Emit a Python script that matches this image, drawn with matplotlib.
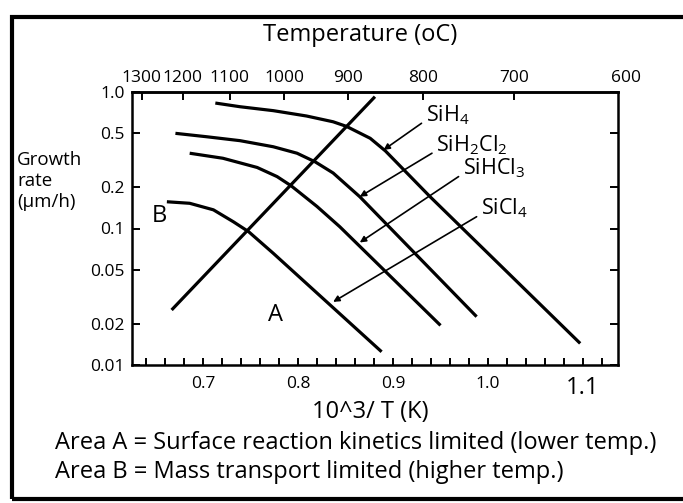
import numpy as np
import matplotlib
matplotlib.use('Agg')
import matplotlib.pyplot as plt
from matplotlib.patches import Rectangle
from matplotlib.ticker import FixedLocator, NullLocator

plt.rcParams['font.family'] = ['Open Sans', 'DejaVu Sans']
plt.rcParams['mathtext.default'] = 'regular'

# curvas: x = 10^3/T (1/K), y = velocidad de crecimiento (um/h)
sih4_x = [0.713, 0.739, 0.774, 0.809, 0.837, 0.851, 0.876, 0.892, 0.939, 1.097]
sih4_y = [0.83, 0.78, 0.73, 0.667, 0.605, 0.56, 0.458, 0.37, 0.171, 0.0144]

sih2cl2_x = [0.671, 0.704, 0.739, 0.774, 0.799, 0.818, 0.837, 0.865, 0.988]
sih2cl2_y = [0.498, 0.47, 0.44, 0.397, 0.356, 0.308, 0.255, 0.171, 0.0226]

sihcl3_x = [0.686, 0.721, 0.757, 0.778, 0.793, 0.820, 0.844, 0.950]
sihcl3_y = [0.356, 0.327, 0.28, 0.24, 0.205, 0.145, 0.103, 0.0195]

sicl4_x = [0.662, 0.686, 0.711, 0.732, 0.748, 0.774, 0.888]
sicl4_y = [0.157, 0.153, 0.137, 0.112, 0.0948, 0.0658, 0.0125]

# frontera entre zona A y zona B
frontera_x = [0.667, 0.881]
frontera_y = [0.0253, 0.924]

# etiquetas de los gases y sus flechas
gases = ['SiH$_4$', 'SiH$_2$Cl$_2$', 'SiHCl$_3$', 'SiCl$_4$']
flecha_ini_x = [0.930, 0.941, 0.969, 0.988]
flecha_ini_y = [0.59, 0.356, 0.24, 0.122]
flecha_fin_x = [0.890, 0.865, 0.865, 0.837]
flecha_fin_y = [0.376, 0.171, 0.079, 0.029]

x_ticks = [0.7, 0.8, 0.9, 1.0, 1.1]
x_labels = ['0.7', '0.8', '0.9', '1.0', '1.1']
y_ticks = [0.01, 0.02, 0.05, 0.1, 0.2, 0.5, 1.0]
y_labels = ['0.01', '0.02', '0.05', '0.1', '0.2', '0.5', '1.0']
temps = [1300, 1200, 1100, 1000, 900, 800, 700, 600]


def a_celsius(x):
    x = np.asarray(x, dtype=float)
    with np.errstate(divide='ignore'):
        return 1000.0 / x - 273.0


def a_inversa(t):
    t = np.asarray(t, dtype=float)
    with np.errstate(divide='ignore'):
        return 1000.0 / (t + 273.0)


fig = plt.figure(figsize=(6.83, 5.03), dpi=100)
ax = fig.add_axes([132/683, 1-365/503, (618-132)/683, (365-92)/503])

lw = 2.3
for xs, ys in [(sih4_x, sih4_y), (sih2cl2_x, sih2cl2_y),
               (sihcl3_x, sihcl3_y), (sicl4_x, sicl4_y)]:
    ax.plot(xs, ys, color='black', lw=lw, solid_capstyle='butt')
ax.plot(frontera_x, frontera_y, color='black', lw=lw, solid_capstyle='butt')

for i, g in enumerate(gases):
    ax.annotate('', xy=(flecha_fin_x[i], flecha_fin_y[i]),
                xytext=(flecha_ini_x[i], flecha_ini_y[i]),
                arrowprops=dict(arrowstyle='-|>', color='black', lw=1.2,
                                mutation_scale=9, shrinkA=0, shrinkB=0))
    ax.annotate(g, xy=(flecha_ini_x[i], flecha_ini_y[i]), xytext=(3, 6),
                textcoords='offset points', ha='left', va='center', fontsize=15.5)

ax.text(0.654, 0.124, 'B', fontsize=17, ha='center', va='center')
ax.text(0.776, 0.0232, 'A', fontsize=17, ha='center', va='center')

ax.set_yscale('log')
ax.set_xlim(0.6253, 1.1368)
ax.set_ylim(0.01, 1.0)

ax.xaxis.set_major_locator(FixedLocator(x_ticks))
ax.set_xticklabels(x_labels)
ax.xaxis.set_minor_locator(FixedLocator(np.round(np.arange(0.64, 1.121, 0.02), 2)))
ax.yaxis.set_major_locator(FixedLocator(y_ticks))
ax.set_yticklabels(y_labels)
ax.yaxis.set_minor_locator(NullLocator())

ax.tick_params(axis='both', which='both', direction='in', width=1.4,
               top=False, right=True, labelsize=12.5)
ax.tick_params(axis='x', which='both', length=5, pad=8)
ax.tick_params(axis='y', which='major', length=6, pad=5)
ax.get_xticklabels()[-1].set_fontsize(17)
for s in ax.spines.values():
    s.set_linewidth(1.8)

sec = ax.secondary_xaxis('top', functions=(a_celsius, a_inversa))
sec.set_xticks(temps[:-1])
sec.set_xticklabels([str(t) for t in temps[:-1]])
sec.xaxis.set_minor_locator(NullLocator())
sec.tick_params(direction='in', length=6, width=1.4, labelsize=12.5, pad=4)
sec.spines['top'].set_linewidth(1.8)
ax.annotate(str(temps[-1]), xy=(a_inversa(temps[-1]), 1.0),
            xycoords=ax.get_xaxis_transform(), xytext=(0, 4),
            textcoords='offset points', ha='center', va='bottom',
            fontsize=12.5, annotation_clip=False)

fig.text(360/683, 1-35/503, 'Temperature (oC)', ha='center', va='center', fontsize=17)
fig.text(17/683, 1-181/503, 'Growth\nrate\n(\u00b5m/h)', ha='left', va='center',
         fontsize=13.5, linespacing=1.2)
fig.text(370/683, 1-412/503, '10^3/ T (K)', ha='center', va='center', fontsize=17)
fig.text(55/683, 1-443/503, 'Area A = Surface reaction kinetics limited (lower temp.)',
         ha='left', va='center', fontsize=17)
fig.text(55/683, 1-472/503, 'Area B = Mass transport limited (higher temp.)',
         ha='left', va='center', fontsize=17)

fig.patches.append(Rectangle((12/683, 1-499/503), 1.0, (499-17)/503,
                             transform=fig.transFigure, fill=False,
                             lw=3, ec='black'))

fig.savefig('out.png', dpi=100)
